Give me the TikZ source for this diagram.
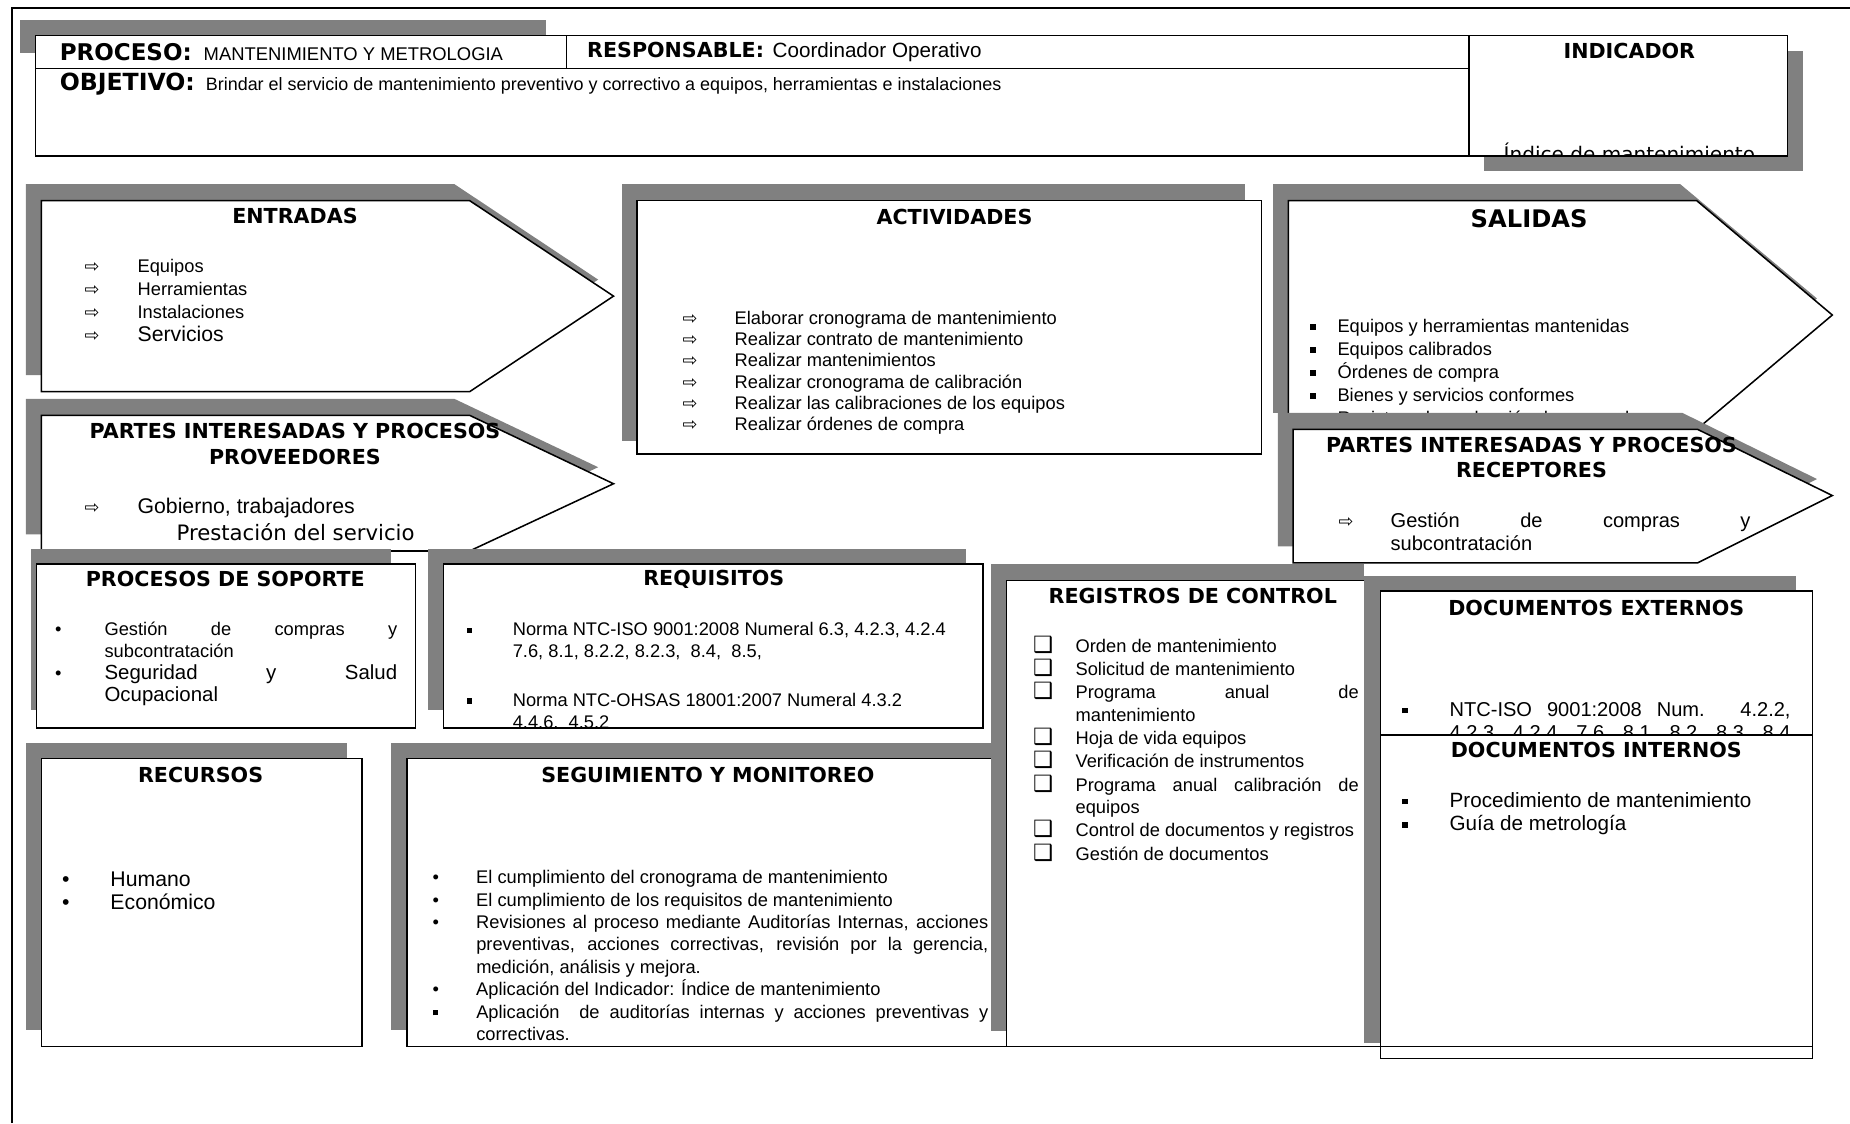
\documentclass[tikz,border=0pt]{standalone}
\usepackage{fontspec}
\setmainfont{Liberation Sans}
\newfontfamily\verdana{DejaVu Sans}
\usetikzlibrary{positioning}
\definecolor{shade}{HTML}{808080}
\newcommand{\boxtitle}{\verdana\bfseries\fontsize{17.5}{22}\selectfont}
\newcommand{\bodyfont}{\fontsize{15.5}{19.5}\selectfont}
\newcommand{\arrmark}{{\verdana\fontsize{15}{15}\selectfont ⇨}}
\newcommand{\sqmark}{\rule[2.5pt]{4.5pt}{4.5pt}}
\newcommand{\chkmark}{{\verdana\fontsize{19}{19}\selectfont ❑}}
\newcommand{\bulmark}{•}

\begin{document}
\begin{tikzpicture}[x=1pt,y=-1pt,line width=1.3pt,
  shd/.style={fill=shade},
  title/.style={font=\boxtitle,inner sep=0pt},
  lst/.style={anchor=base west,inner sep=0pt,font=\bodyfont}]
\useasboundingbox (0,0) rectangle (1568,952);
\draw (10,952) -- (10,7) -- (1568,7);

\fill[shd] (17,17) rectangle (463,45);
\draw[fill=white] (30,30) rectangle (1245,132);
\draw (30,58) -- (1245,58);
\draw (480,30) -- (480,58);
\node[title,anchor=base west,font=\verdana\bfseries\fontsize{19.5}{22}\selectfont] (proc) at (50,51) {PROCESO:};
\node[lst,font=\fontsize{15.6}{18}\selectfont] (procv) at (172,51) {MANTENIMIENTO Y METROLOGIA};
\node[title,anchor=base west] (resp) at (497,49) {RESPONSABLE:};
\node[lst,font=\fontsize{17.5}{20}\selectfont] (respv) at ([xshift=6pt]resp.base east) {Coordinador Operativo};
\node[title,anchor=base west,font=\verdana\bfseries\fontsize{20}{22}\selectfont] (obj) at (50,77) {OBJETIVO:};
\node[lst,font=\fontsize{15.2}{18}\selectfont] (objv) at ([xshift=8pt]obj.base east) {Brindar el servicio de mantenimiento preventivo y correctivo a equipos, herramientas e instalaciones};

\fill[shd] (1258,43) rectangle (1528,145);
\fill[white] (1245,30) rectangle (1515,132);
\node[title] (ind) at (1381,43) {INDICADOR};
\begin{scope}
  \clip (1245,30) rectangle (1515,132);
  \node[anchor=base,inner sep=0pt,font=\verdana\fontsize{17}{20}\selectfont] (indv) at (1381,137) {Índice de mantenimiento};
\end{scope}
\draw (1245,30) rectangle (1515,132);

\fill[shd] (22,156) -- (385,156) -- (507,237) -- (385,318) -- (22,318) -- cycle;
\draw[fill=white] (35,170) -- (398,170) -- (520,251) -- (398,332) -- (35,332) -- cycle;
\node[title] (ent) at (250,183) {ENTRADAS};
\node[lst] (entl) at (71,231) {\begin{tabular}[t]{@{}p{45pt}@{}l@{}}
\arrmark & Equipos\\
\arrmark & Herramientas\\
\arrmark & Instalaciones\\
\arrmark & {\fontsize{18}{19.5}\selectfont Servicios}
\end{tabular}};

\fill[shd] (22,338) -- (385,338) -- (507,396) -- (385,453) -- (22,453) -- cycle;
\draw[fill=white] (35,352) -- (398,352) -- (520,410) -- (398,467) -- (35,467) -- cycle;
\node[title,align=center] (prov) at (250,376) {PARTES INTERESADAS Y PROCESOS\\PROVEEDORES};
\node[lst,font=\fontsize{18}{22}\selectfont] (provl) at (71,435) {\begin{tabular}[t]{@{}p{45pt}@{}l@{}}
\arrmark & Gobierno, trabajadores
\end{tabular}};
\node[lst,font=\verdana\fontsize{18}{22}\selectfont] (provs) at (149,458) {Prestación del servicio};

\fill[shd] (527,156) rectangle (1055,374);
\draw[fill=white] (540,170) rectangle (1069,385);
\node[title] (act) at (809,184) {ACTIVIDADES};
\node[lst,font=\fontsize{15.5}{18}\selectfont] (actl) at (578,275) {\begin{tabular}[t]{@{}p{44pt}@{}l@{}}
\arrmark & Elaborar cronograma de mantenimiento\\
\arrmark & Realizar contrato de mantenimiento\\
\arrmark & Realizar mantenimientos\\
\arrmark & Realizar cronograma de calibración\\
\arrmark & Realizar las calibraciones de los equipos\\
\arrmark & Realizar órdenes de compra
\end{tabular}};

\fill[shd] (1079,156) -- (1424,156) -- (1540,253) -- (1424,350) -- (1079,350) -- cycle;
\draw[fill=white] (1092,170) -- (1438,170) -- (1553,267) -- (1438,364) -- (1092,364) -- cycle;
\node[title,font=\verdana\bfseries\fontsize{20.5}{24}\selectfont] (sal) at (1296,185) {SALIDAS};
\node[lst] (sall) at (1110,282) {\begin{tabular}[t]{@{}p{23pt}@{}l@{}}
\sqmark & Equipos y herramientas mantenidas\\
\sqmark & Equipos calibrados\\
\sqmark & Órdenes de compra\\
\sqmark & Bienes y servicios conformes\\
\sqmark & Registros de evaluación de proveedores
\end{tabular}};

\fill[shd] (1083,350) -- (1426,350) -- (1540,406) -- (1426,463) -- (1083,463) -- cycle;
\draw[fill=white] (1096,364) -- (1439,364) -- (1553,420) -- (1439,477) -- (1096,477) -- cycle;
\node[title,align=center,font=\verdana\bfseries\fontsize{17.5}{21}\selectfont] (rec) at (1298,387.5) {PARTES INTERESADAS Y PROCESOS\\RECEPTORES};
\node[lst,font=\fontsize{17}{20}\selectfont] (recl) at (1134,447) {\begin{tabular}[t]{@{}p{44pt}@{}l@{}}
\arrmark & \makebox[305pt][s]{Gestión de compras y}\\
 & subcontratación
\end{tabular}};

\fill[shd] (26,465) rectangle (331,602);
\draw[fill=white] (31,478) rectangle (352,617);
\node[title] (sop) at (191,491) {PROCESOS DE SOPORTE};
\node[lst,font=\fontsize{15.5}{18.5}\selectfont] (sopl) at (46,539) {\begin{tabular}[t]{@{}p{42pt}@{}l@{}}
\bulmark & \makebox[248pt][s]{Gestión de compras y}\\
 & subcontratación\\
\bulmark & \makebox[248pt][s]{\fontsize{17.3}{19}\selectfont Seguridad y Salud}\\
 & {\fontsize{17.3}{19}\selectfont Ocupacional}
\end{tabular}};

\fill[shd] (363,465) rectangle (819,602);
\fill[white] (376,478) rectangle (833,617);
\node[title] (req) at (605,491) {REQUISITOS};
\begin{scope}
  \clip (376,478) rectangle (833,617);
  \node[lst,font=\fontsize{15.5}{18.5}\selectfont] (reql) at (395,539) {\begin{tabular}[t]{@{}p{39pt}@{}l@{}}
  \sqmark & Norma NTC-ISO 9001:2008 Numeral 6.3, 4.2.3, 4.2.4\\
   & 7.6, 8.1, 8.2.2, 8.2.3,\ \ 8.4,\ \ 8.5,
  \end{tabular}};
  \node[lst,font=\fontsize{15.5}{18.5}\selectfont] (reqm) at (395,599) {\begin{tabular}[t]{@{}p{39pt}@{}l@{}}
  \sqmark & Norma NTC-OHSAS 18001:2007 Numeral 4.3.2\\
   & 4.4.6,\ \ 4.5.2
  \end{tabular}};
\end{scope}
\draw (376,478) rectangle (833,617);

\fill[shd] (22,630) rectangle (294,873);
\draw[fill=white] (35,643) rectangle (307,887);
\node[title] (rcs) at (170,657) {RECURSOS};
\node[lst,font=\fontsize{18}{20}\selectfont] (rcsl) at (52,751) {\begin{tabular}[t]{@{}p{41pt}@{}l@{}}
\bulmark & Humano\\
\bulmark & Económico
\end{tabular}};

\fill[shd] (331,630) rectangle (845,873);
\draw[fill=white] (345,643) rectangle (858,887);
\node[title] (seg) at (600,657) {SEGUIMIENTO Y MONITOREO};
\node[lst,font=\fontsize{15.5}{19}\selectfont] (segl) at (366,749) {\begin{tabular}[t]{@{}p{37pt}@{}l@{}}
\bulmark & El cumplimiento del cronograma de mantenimiento\\
\bulmark & El cumplimiento de los requisitos de mantenimiento\\
\bulmark & \makebox[434pt][s]{Revisiones al proceso mediante Auditorías Internas, acciones}\\
 & \makebox[434pt][s]{preventivas, acciones correctivas, revisión por la gerencia,}\\
 & medición, análisis y mejora.\\
\bulmark & Aplicación del Indicador: Índice de mantenimiento\\
\sqmark & \makebox[434pt][s]{Aplicación\ \ de auditorías internas y acciones preventivas y}\\
 & correctivas.
\end{tabular}};

\fill[shd] (840,478) rectangle (1156,874);
\draw[fill=white] (853,492) rectangle (1170,887);
\node[title] (reg) at (1011,505) {REGISTROS DE CONTROL};
\node[lst,font=\fontsize{15.5}{19.3}\selectfont] (regl) at (875,553) {\begin{tabular}[t]{@{}p{36pt}@{}l@{}}
\chkmark & Orden de mantenimiento\\
\chkmark & Solicitud de mantenimiento\\
\chkmark & \makebox[240pt][s]{Programa anual de}\\
 & mantenimiento\\
\chkmark & Hoja de vida equipos\\
\chkmark & Verificación de instrumentos\\
\chkmark & \makebox[240pt][s]{Programa anual calibración de}\\
 & equipos\\
\chkmark & Control de documentos y registros\\
\chkmark & Gestión de documentos
\end{tabular}};

\fill[shd] (1156,488) rectangle (1522,884);
\fill[white] (1170,501) rectangle (1536,887);
\node[title] (ext) at (1353,515) {DOCUMENTOS EXTERNOS};
\node[lst,font=\fontsize{17}{19.5}\selectfont] (extl) at (1188,607) {\begin{tabular}[t]{@{}p{40pt}@{}l@{}}
\sqmark & \makebox[289pt][s]{NTC-ISO 9001:2008 Num. 4.2.2,}\\
 & \makebox[289pt][s]{4.2.3, 4.2.4, 7.6, 8.1, 8.2, 8.3, 8.4}
\end{tabular}};

\draw[fill=white] (1170,623) rectangle (1536,897);
\node[title] (int) at (1353,636) {DOCUMENTOS INTERNOS};
\node[lst,font=\fontsize{17.5}{20}\selectfont] (intl) at (1188,684) {\begin{tabular}[t]{@{}p{40pt}@{}l@{}}
\sqmark & Procedimiento de mantenimiento\\
\sqmark & Guía de metrología
\end{tabular}};
\draw (1170,887) -- (1170,501) -- (1536,501) -- (1536,887) -- cycle;
\end{tikzpicture}
\end{document}
